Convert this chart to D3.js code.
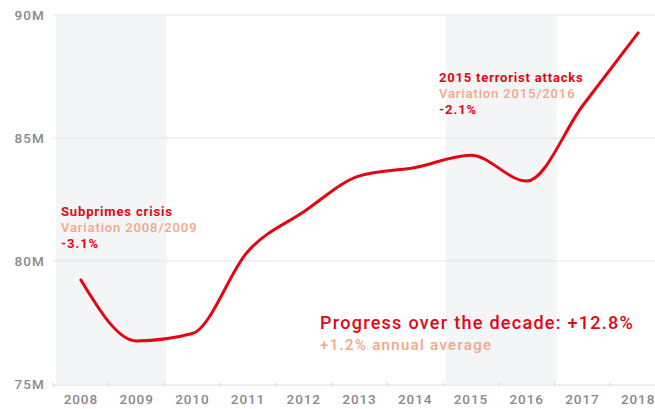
<!DOCTYPE html>
<html>
<head>
<meta charset="utf-8">
<script src="https://cdn.jsdelivr.net/npm/d3@7"></script>
<style>
  html, body { margin: 0; padding: 0; background: #fff; }
  svg { display: block; font-family: Roboto, "Open Sans", sans-serif; }
</style>
</head>
<body>
<svg id="chart" width="655" height="409"></svg>
<script>
const years = ["2008","2009","2010","2011","2012","2013","2014","2015","2016","2017","2018"];
const visitors = [79.23, 76.75, 77.05, 80.4, 82.0, 83.46, 83.8, 84.3, 83.25, 86.3, 89.27];
const yTicks = [75, 80, 85, 90];
const shadedPeriods = [["2008","2009"], ["2015","2016"]];
const annotations = [
  { year: "2008", lines: ["Subprimes crisis", "Variation 2008/2009", "-3.1%"], value: 81.83 },
  { year: "2015", lines: ["2015 terrorist attacks", "Variation 2015/2016", "-2.1%"], value: 87.28 }
];
const summary = ["Progress over the decade: +12.8%", "+1.2% annual average"];

const red = "#e30613", salmon = "#f4a685", grey = "#8a8a8a";
const svg = d3.select("#chart");
const W = 655, H = 409;
const mLeft = 53, mTop = 15, mBottom = 384;

// stretch text to the width its wider original typeface used
function widen(sel, factor) {
  sel.each(function() {
    const n = this.textContent.length;
    const cur = this.getComputedTextLength();
    d3.select(this).attr("letter-spacing", (cur * (factor - 1) / n).toFixed(2));
  });
}

const x = d3.scaleBand().domain(years).range([mLeft, 666]).padding(0);
const y = d3.scaleLinear().domain([75, 90]).range([mBottom, mTop]);
const bw = x.bandwidth();

// shaded periods
svg.append("g").selectAll("rect").data(shadedPeriods).join("rect")
  .attr("x", d => x(d[0]) + 3)
  .attr("y", y(90))
  .attr("width", d => x(d[1]) + bw - x(d[0]) - 1)
  .attr("height", y(75) - y(90))
  .attr("fill", "#f4f5f7");

// gridlines
svg.append("g").selectAll("line").data(yTicks.filter(t => t > 75)).join("line")
  .attr("x1", mLeft).attr("x2", W)
  .attr("y1", d => y(d)).attr("y2", d => y(d))
  .attr("stroke", "#e4e4e4").attr("stroke-width", 1);

// y labels
svg.append("g").selectAll("text").data(yTicks).join("text")
  .attr("x", 45).attr("y", d => y(d) + 5)
  .attr("text-anchor", "end")
  .attr("fill", grey).attr("font-size", 13.5).attr("font-weight", 500)
  .text(d => d + "M")
  .call(widen, 1.12);

// x axis line
svg.append("line").attr("x1", mLeft).attr("x2", W)
  .attr("y1", mBottom + 1).attr("y2", mBottom + 1)
  .attr("stroke", "#dcdcdc").attr("stroke-width", 1);
svg.append("g").selectAll("line").data(years).join("line")
  .attr("x1", d => x(d)).attr("x2", d => x(d))
  .attr("y1", mBottom - 2).attr("y2", mBottom + 3)
  .attr("stroke", "#dcdcdc");
svg.append("g").selectAll("text").data(years).join("text")
  .attr("x", d => x(d) + bw / 2).attr("y", 404)
  .attr("text-anchor", "middle")
  .attr("fill", grey).attr("font-size", 13.5).attr("font-weight", 500)
  .text(d => d)
  .call(widen, 1.12);

// line
const line = d3.line()
  .x((d, i) => x(years[i]) + bw / 2)
  .y(d => y(d))
  .curve(d3.curveMonotoneX);
svg.append("path").datum(visitors)
  .attr("d", line)
  .attr("fill", "none")
  .attr("stroke", red)
  .attr("stroke-width", 3)
  .attr("stroke-linecap", "round");

// annotations
const annX = { "2008": 61, "2015": 439 };
annotations.forEach(a => {
  const g = svg.append("g");
  const by = y(a.value);
  a.lines.forEach((t, i) => {
    g.append("text")
      .attr("x", annX[a.year])
      .attr("y", by + i * 16)
      .attr("fill", i === 1 ? salmon : red)
      .attr("font-size", 13)
      .attr("font-weight", i === 1 ? 500 : 700)
      .text(t)
      .call(widen, 1.14);
  });
});

svg.append("text").attr("x", 320).attr("y", 329)
  .attr("fill", red).attr("font-size", 18).attr("font-weight", 500)
  .text(summary[0])
  .call(widen, 1.15);
svg.append("text").attr("x", 320).attr("y", 350)
  .attr("fill", salmon).attr("font-size", 15).attr("font-weight", 500)
  .text(summary[1])
  .call(widen, 1.18);
</script>
</body>
</html>
